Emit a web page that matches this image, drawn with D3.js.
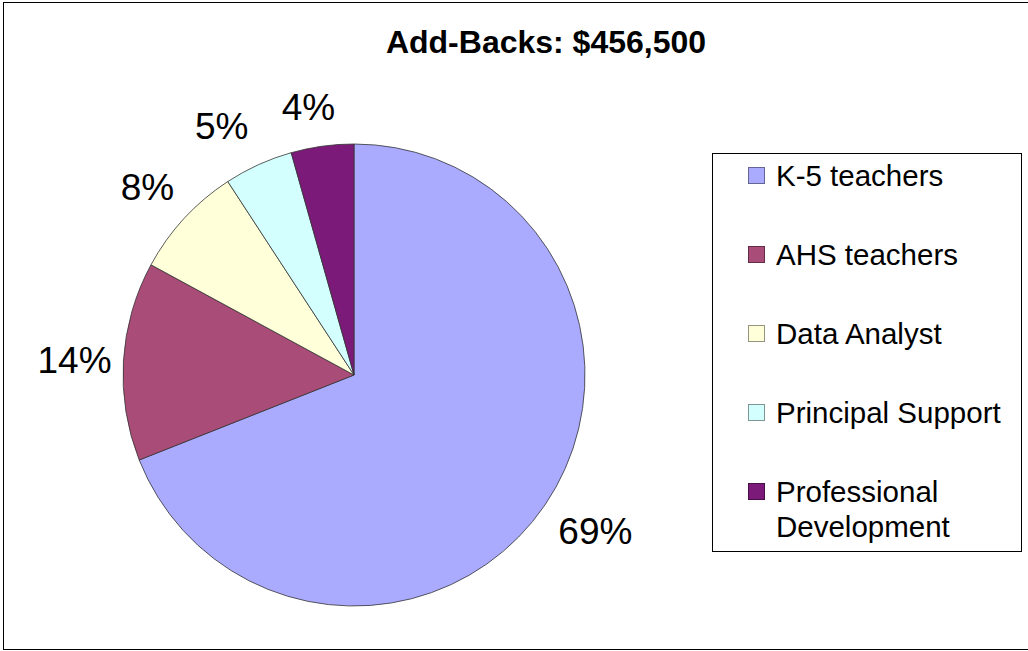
<!DOCTYPE html>
<html>
<head>
<meta charset="utf-8">
<script src="https://cdn.jsdelivr.net/npm/d3@7"></script>
<style>
  body { margin: 0; background: #fff; }
  svg { display: block; font-family: 'Liberation Sans', Arial, sans-serif; }
</style>
</head>
<body>
<div class="chart"></div>
<script>
// Data
const categories = ['K-5 teachers', 'AHS teachers', 'Data Analyst', 'Principal Support', 'Professional Development'];
const amounts = [315000, 63500, 36000, 22000, 20000];
const colors = ['#aaabff', '#a94c78', '#ffffd9', '#d4ffff', '#7b1a78'];
const legendLines = [['K-5 teachers'], ['AHS teachers'], ['Data Analyst'], ['Principal Support'], ['Professional', 'Development']];
const title = 'Add-Backs: $456,500';

// small label shifts (Excel style placement)
const labelNudge = [[9, -2], [1, 2], [0, 2], [-16, 6], [-7, 10]];

const w = 1028;
const h = 651;
const cx = 354;
const cy = 375;
const radius = 231;
const labelRadius = 281;

const svg = d3.select('.chart')
  .append('svg')
  .attr('width', w)
  .attr('height', h);

// outer frame
svg.append('rect')
  .attr('x', 3.5)
  .attr('y', 2.5)
  .attr('width', w + 10)
  .attr('height', h - 4)
  .attr('fill', '#fff')
  .attr('stroke', '#000')
  .attr('stroke-width', 1);

// Title
svg.append('text')
  .attr('x', 546)
  .attr('y', 53)
  .attr('text-anchor', 'middle')
  .style('font-size', '32px')
  .style('font-weight', 'bold')
  .text(title);

const total = d3.sum(amounts);
const pie = d3.pie().sort(null).value((d) => d);
const arcs = pie(amounts);
const arc = d3.arc().innerRadius(0).outerRadius(radius);
const labelArc = d3.arc().innerRadius(labelRadius).outerRadius(labelRadius);

const pieG = svg.append('g').attr('transform', `translate(${cx},${cy})`);

pieG.selectAll('path')
  .data(arcs)
  .enter()
  .append('path')
  .attr('d', arc)
  .attr('fill', (d, i) => colors[i])
  .attr('stroke', '#333')
  .attr('stroke-width', 0.8);

pieG.selectAll('text')
  .data(arcs)
  .enter()
  .append('text')
  .attr('transform', (d, i) => {
    const [x, y] = labelArc.centroid(d);
    return `translate(${x + labelNudge[i][0]},${y + labelNudge[i][1]})`;
  })
  .attr('text-anchor', 'middle')
  .attr('dy', '0.36em')
  .style('font-size', '37px')
  .text((d) => Math.round((d.value / total) * 100) + '%');

// Legend
const legend = svg.append('g').attr('id', 'legend');

legend.append('rect')
  .attr('x', 712.5)
  .attr('y', 153.5)
  .attr('width', 309)
  .attr('height', 398)
  .attr('fill', '#fff')
  .attr('stroke', '#000')
  .attr('stroke-width', 1);

const rowY = d3.scaleLinear().domain([0, categories.length - 1]).range([186, 502]);

const items = legend.selectAll('.legend-label')
  .data(categories)
  .enter()
  .append('g')
  .attr('class', 'legend-label')
  .attr('transform', (d, i) => `translate(0,${rowY(i)})`);

items.append('rect')
  .attr('x', 748.5)
  .attr('y', -18.5)
  .attr('width', 16)
  .attr('height', 16)
  .attr('fill', (d, i) => colors[i])
  .attr('stroke', (d, i) => d3.color(colors[i]).darker(1.5))
  .attr('stroke-width', 1);

items.append('text')
  .attr('x', 776)
  .attr('y', 0)
  .style('font-size', '29.5px')
  .selectAll('tspan')
  .data((d, i) => legendLines[i])
  .enter()
  .append('tspan')
  .attr('x', 776)
  .attr('dy', (d, j) => (j === 0 ? 0 : 35))
  .text((d) => d);
</script>
</body>
</html>
